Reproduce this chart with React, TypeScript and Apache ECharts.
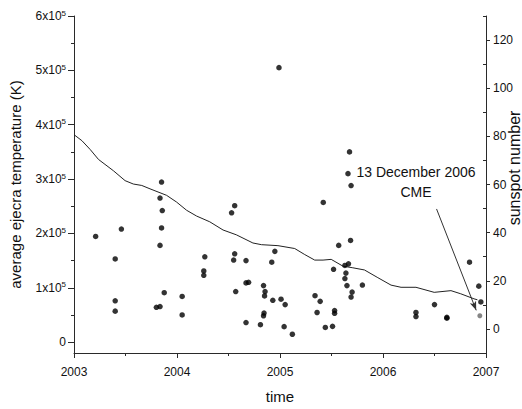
import React, { useEffect, useRef } from "react";
import * as echarts from "echarts";

// ---- data ----
const tempYears = [
  2003.21, 2003.46, 2003.40, 2003.40, 2003.40, 2003.85, 2003.835, 2003.857, 2003.85, 2003.835,
  2003.876, 2003.80, 2003.835, 2004.05, 2004.05, 2004.27, 2004.26, 2004.26, 2004.53, 2004.56,
  2004.55, 2004.56, 2004.57, 2004.67, 2004.67, 2004.695, 2004.67, 2004.81, 2004.95, 2004.92,
  2004.84, 2004.855, 2004.85, 2004.93, 2005.01, 2005.05, 2004.845, 2004.84, 2005.04, 2005.12,
  2004.99, 2005.42, 2005.57, 2005.685, 2005.69, 2005.66, 2005.675, 2005.665, 2005.63, 2005.52,
  2005.64, 2005.63, 2005.65, 2005.80, 2005.70, 2005.69, 2005.34, 2005.39, 2005.36, 2005.53,
  2005.53, 2005.44, 2005.51, 2006.32, 2006.32, 2006.50, 2006.62, 2006.62, 2006.84, 2006.93,
  2006.95,
];
const tempValues = [
  194500, 208000, 153000, 76000, 57000, 294500, 265000, 242000, 210000, 178000,
  91000, 64000, 65500, 84000, 50000, 157000, 131000, 123000, 238000, 251000,
  151000, 162500, 93000, 150000, 109000, 110000, 36000, 32000, 167000, 147000,
  104000, 93000, 85000, 77000, 79000, 69000, 53500, 48500, 28500, 14500,
  505000, 257000, 178000, 187000, 288000, 310000, 350000, 144000, 141000, 134000,
  127000, 117000, 104000, 105000, 92000, 83000, 85500, 75000, 54500, 58000,
  53000, 27000, 29000, 54500, 47000, 69000, 45500, 44000, 147000, 103000,
  74000,
];
const cmeYears = [2006.94];
const cmeValues = [48500];

const sunspotYears = [
  2003.0, 2003.077, 2003.158, 2003.238, 2003.383, 2003.496, 2003.576, 2003.658, 2003.738, 2003.899,
  2003.996, 2004.093, 2004.19, 2004.318, 2004.447, 2004.576, 2004.737, 2004.82, 2004.98, 2005.143,
  2005.24, 2005.337, 2005.418, 2005.497, 2005.61, 2005.707, 2005.82, 2005.95, 2006.078, 2006.175,
  2006.32, 2006.497, 2006.66, 2006.755, 2006.884, 2006.917,
];
const sunspotNumbers = [
  80.7, 78.2, 74.5, 70.4, 65.7, 61.6, 60.2, 59.6, 58.2, 55.5,
  52.7, 49.3, 46.9, 44.5, 41.1, 39.1, 35.7, 35.0, 34.6, 33.4,
  30.9, 28.6, 28.6, 28.9, 26.1, 25.4, 24.5, 21.3, 18.2, 17.3,
  17.3, 15.2, 15.9, 14.6, 12.5, 12.1,
];

const tempTickValues = [0, 100000, 200000, 300000, 400000, 500000, 600000];
const tempMinorTicks = [50000, 150000, 250000, 350000, 450000, 550000];
const sunspotTickValues = [0, 20, 40, 60, 80, 100, 120];
const sunspotMinorTicks = [-10, 10, 30, 50, 70, 90, 110, 130];

const arrowFrom = [2006.52, 245000];
const arrowTo = [2006.905, 58500];

const FONT = "Liberation Sans, Arial, Helvetica, sans-serif";
const AXIS = "#2a2a2a";
const TXT = "#111";

export default function App() {
  const ref = useRef<HTMLDivElement>(null);
  useEffect(() => {
    const chart = echarts.init(ref.current!, null, { renderer: "svg" });
    const lineStyle = { color: AXIS, width: 1 };
    const option: any = {
      animation: false,
      backgroundColor: "#fff",
      textStyle: { fontFamily: FONT },
      grid: { left: 72, right: 36, top: 16, bottom: 51, containLabel: false },
      xAxis: {
        type: "value",
        min: 2003,
        max: 2007,
        interval: 1,
        axisLine: { show: true, onZero: false, lineStyle },
        axisTick: { show: true, length: 5, inside: false, lineStyle },
        minorTick: { show: true, splitNumber: 2, length: 3, lineStyle },
        splitLine: { show: false },
        minorSplitLine: { show: false },
        axisLabel: {
          formatter: (v: number) => String(v),
          margin: 13,
          fontSize: 12,
          color: TXT,
          fontFamily: FONT,
        },
        name: "time",
        nameLocation: "middle",
        nameGap: 36,
        nameTextStyle: { fontSize: 15, color: TXT, fontFamily: FONT },
      },
      yAxis: [
        {
          type: "value",
          position: "left",
          min: -20000,
          max: 600000,
          axisLine: { show: true, onZero: false, lineStyle },
          axisTick: { show: true, customValues: tempTickValues, length: 6, lineStyle },
          splitLine: { show: false },
          axisLabel: {
            customValues: tempTickValues,
            margin: 8,
            color: TXT,
            formatter: (v: number) =>
              v === 0 ? "{a|0}" : `{a|${Math.round(v / 100000)}x10}{s|5}`,
            rich: {
              a: { fontSize: 12, color: TXT, fontFamily: FONT, lineHeight: 14 },
              s: { fontSize: 8, color: TXT, fontFamily: FONT, verticalAlign: "top", lineHeight: 14, padding: [0, 0, 7, 0] },
            },
          },
          name: "average ejecra temperature (K)",
          nameLocation: "middle",
          nameGap: 51,
          nameTextStyle: { fontSize: 15, color: TXT, fontFamily: FONT },
        },
        {
          type: "value",
          position: "right",
          min: -10,
          max: 130,
          axisLine: { show: true, onZero: false, lineStyle },
          axisTick: { show: true, customValues: sunspotTickValues, length: 4, lineStyle },
          splitLine: { show: false },
          axisLabel: {
            customValues: sunspotTickValues,
            margin: 7,
            fontSize: 12,
            color: TXT,
            fontFamily: FONT,
          },
        },
        {
          type: "value",
          position: "left",
          offset: 0,
          min: -20000,
          max: 600000,
          axisLine: { show: false, onZero: false },
          axisTick: { show: true, customValues: tempMinorTicks, length: 3, lineStyle },
          axisLabel: { show: false },
          splitLine: { show: false },
        },
        {
          type: "value",
          position: "right",
          offset: 0,
          min: -10,
          max: 130,
          axisLine: { show: false, onZero: false },
          axisTick: { show: true, inside: true, customValues: sunspotMinorTicks, length: 3, lineStyle },
          axisLabel: { show: false },
          splitLine: { show: false },
        },
      ],
      series: [
        {
          type: "line",
          name: "sunspot number",
          yAxisIndex: 1,
          data: sunspotYears.map((x, i) => [x, sunspotNumbers[i]]),
          showSymbol: false,
          symbol: "none",
          lineStyle: { color: "#222", width: 1 },
          silent: true,
          z: 2,
        },
        {
          type: "scatter",
          name: "temperature",
          yAxisIndex: 0,
          data: tempYears.map((x, i) => [x, tempValues[i]]),
          symbol: "circle",
          symbolSize: 5.5,
          itemStyle: { color: "#000" },
          silent: true,
          z: 3,
        },
        {
          type: "scatter",
          name: "CME",
          yAxisIndex: 0,
          data: cmeYears.map((x, i) => [x, cmeValues[i]]),
          symbol: "circle",
          symbolSize: 5,
          itemStyle: { color: "#666" },
          silent: true,
          z: 3,
          markLine: {
            silent: true,
            symbol: ["none", "arrow"],
            symbolSize: [5, 9],
            label: { show: false },
            lineStyle: { color: "#333", width: 1, type: "solid" },
            data: [[{ coord: arrowFrom }, { coord: arrowTo }]],
          },
        },
      ],
      graphic: [
        {
          type: "text",
          x: 416,
          y: 172,
          style: {
            text: "13 December 2006",
            fontSize: 14,
            fontFamily: FONT,
            fill: TXT,
            align: "center",
            verticalAlign: "middle",
          },
        },
        {
          type: "text",
          x: 416,
          y: 192,
          style: {
            text: "CME",
            fontSize: 14,
            fontFamily: FONT,
            fill: TXT,
            align: "center",
            verticalAlign: "middle",
          },
        },
        {
          type: "text",
          x: 514,
          y: 168,
          rotation: Math.PI / 2,
          style: {
            text: "sunspot number",
            fontSize: 16,
            fontFamily: FONT,
            fill: TXT,
            align: "center",
            verticalAlign: "middle",
          },
        },
      ],
    };
    chart.setOption(option);
    return () => chart.dispose();
  }, []);
  return (
    <div
      ref={ref}
      style={{ position: "fixed", left: 0, top: 0, width: 522, height: 409, background: "#fff" }}
    />
  );
}
